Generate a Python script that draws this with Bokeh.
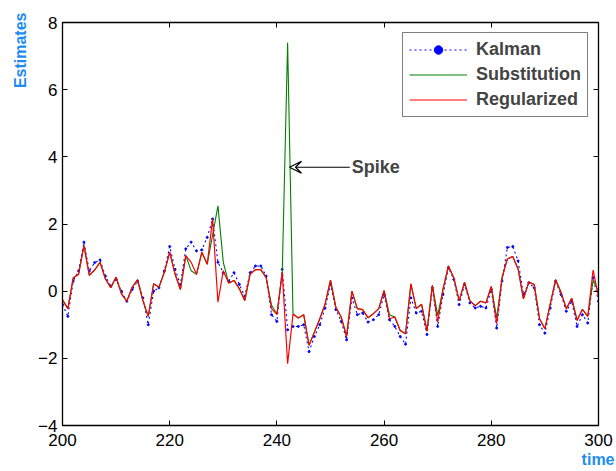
from bokeh.plotting import figure
from bokeh.models import (LinearAxis, FixedTicker, Legend, LegendItem, Arrow, VeeHead,
                          Label, Title, Range1d)
from bokeh.embed import file_html
from bokeh.resources import INLINE

time = list(range(200, 301))

regularized = [
    -0.26, -0.52, 0.40, 0.50, 1.36, 0.47, 0.63, 0.86, 0.37, 0.10,
    0.42, -0.08, -0.30, 0.12, 0.34, -0.28, -0.75, 0.22, 0.12, 0.56,
    1.16, 0.51, 0.05, 1.06, 0.86, 0.50, 1.16, 0.80, 2.15, -0.33,
    0.61, 0.24, 0.32, 0.07, -0.28, 0.51, 0.64, 0.64, 0.40, -0.52,
    -0.69, 0.56, -2.16, -0.69, -0.80, -0.70, -1.61, -1.22, -0.82, -0.38,
    0.33, -0.48, -0.77, -1.35, 0.00, -0.52, -0.55, -0.79, -0.67, -0.52,
    0.02, -0.82, -0.77, -1.17, -1.27, 0.22, -0.52, -0.39, -1.19, 0.17,
    -0.92, 0.07, 0.75, 0.40, -0.28, 0.26, -0.28, -0.43, -0.30, -0.35,
    0.14, -0.97, 0.40, 0.96, 1.03, 0.66, -0.23, 0.27, 0.20, -0.82,
    -1.12, -0.38, 0.34, -0.03, -0.52, -0.21, -0.87, -0.54, -0.75, 0.63,
    -0.18,
]

substitution = [
    -0.26, -0.52, 0.40, 0.50, 1.36, 0.47, 0.63, 0.86, 0.37, 0.10,
    0.42, -0.08, -0.30, 0.12, 0.34, -0.28, -0.75, 0.22, 0.12, 0.56,
    1.16, 0.51, 0.05, 1.06, 0.61, 0.50, 1.16, 0.80, 1.67, 2.54,
    0.86, 0.24, 0.32, 0.07, -0.28, 0.51, 0.64, 0.64, 0.40, -0.42,
    -0.69, 0.56, 7.40, -0.67, -0.80, -0.70, -1.61, -1.22, -0.82, -0.38,
    0.33, -0.48, -0.77, -1.35, 0.00, -0.52, -0.55, -0.79, -0.67, -0.52,
    0.02, -0.70, -0.77, -1.17, -1.27, 0.22, -0.52, -0.39, -1.19, 0.17,
    -0.72, 0.07, 0.75, 0.40, -0.28, 0.26, -0.28, -0.43, -0.30, -0.35,
    0.14, -0.80, 0.40, 0.96, 1.03, 0.66, -0.23, 0.27, 0.20, -0.82,
    -1.12, -0.38, 0.34, -0.03, -0.52, -0.21, -0.87, -0.54, -0.75, 0.32,
    0.00,
]

kalman = [
    -0.40, -0.75, 0.30, 0.60, 1.46, 0.60, 0.85, 0.93, 0.45, 0.15,
    0.35, 0.00, -0.30, 0.05, 0.30, -0.20, -1.00, 0.00, 0.10, 0.60,
    1.33, 0.65, 0.20, 1.26, 1.46, 1.20, 1.23, 1.60, 2.15, 0.86,
    0.55, 0.30, 0.55, 0.20, -0.15, 0.55, 0.75, 0.75, 0.45, -0.70,
    -0.90, 0.65, -1.15, -1.05, -1.05, -1.00, -1.80, -1.35, -1.00, -0.50,
    0.20, -0.55, -0.90, -1.45, -0.20, -0.70, -0.65, -0.92, -0.85, -0.70,
    -0.10, -0.85, -1.05, -1.35, -1.58, -0.20, -0.65, -0.60, -1.29, 0.10,
    -1.05, -0.10, 0.70, 0.35, -0.40, 0.20, -0.35, -0.50, -0.45, -0.50,
    0.05, -1.10, 0.30, 1.30, 1.33, 0.90, -0.10, 0.25, 0.10, -1.00,
    -1.25, -0.50, 0.30, -0.10, -0.60, -0.30, -1.05, -0.70, -0.95, 0.40,
    -0.30,
]

x_ticks = [200, 220, 240, 260, 280, 300]
y_ticks = [-4, -2, 0, 2, 4, 6, 8]
y_tick_labels = {-4: "\u22124", -2: "\u22122", 0: "0", 2: "2", 4: "4", 6: "6", 8: "8"}

spike_tip = (242.35, 3.69)
spike_tail = (253.6, 3.69)
spike_text = "Spike"

FONT = "Liberation Sans"
LABEL_BLUE = "#1E8CF0"

p = figure(width=616, height=471, output_backend="svg", toolbar_location=None,
           x_range=Range1d(200, 300), y_range=Range1d(-4, 8),
           min_border_left=62, min_border_right=18, min_border_top=22, min_border_bottom=46)
p.xgrid.visible = False
p.ygrid.visible = False
p.outline_line_color = "black"
p.outline_line_width = 1.3
p.background_fill_color = "white"
p.border_fill_color = "white"

def style_axis(ax, ticks, labels=True):
    ax.ticker = FixedTicker(ticks=ticks)
    ax.major_tick_in = 5
    ax.major_tick_out = 0
    ax.minor_tick_line_color = None
    ax.axis_line_color = "black"
    ax.major_tick_line_color = "black"
    ax.major_label_text_font = FONT
    ax.major_label_text_font_size = "17px"
    ax.major_label_text_color = "black"
    if not labels:
        ax.major_label_overrides = {t: "" for t in ticks}
        ax.major_label_standoff = 0

style_axis(p.xaxis[0], x_ticks)
p.xaxis[0].major_label_standoff = 8
style_axis(p.yaxis[0], y_ticks)
p.yaxis[0].major_label_overrides = y_tick_labels
p.yaxis[0].major_label_standoff = 5

top_ax = LinearAxis()
style_axis(top_ax, x_ticks, labels=False)
p.add_layout(top_ax, "above")
right_ax = LinearAxis()
style_axis(right_ax, y_ticks, labels=False)
p.add_layout(right_ax, "right")

r_k_line = p.line(time, kalman, line_color="blue", line_width=1.1, line_dash="2 3")
r_k_pts = p.scatter(time, kalman, marker="circle", size=2, fill_color="blue", line_color="blue")
r_s = p.line(time, substitution, line_color="#008000", line_width=1.1)
r_r = p.line(time, regularized, line_color="red", line_width=1.2)

legend = Legend(items=[
    LegendItem(label="Kalman", renderers=[r_k_line, r_k_pts]),
    LegendItem(label="Substitution", renderers=[r_s]),
    LegendItem(label="Regularized", renderers=[r_r]),
], location="top_right")
legend.label_text_font = FONT
legend.label_text_font_style = "bold"
legend.label_text_font_size = "18px"
legend.border_line_color = "black"
legend.border_line_width = 1.2
legend.glyph_width = 58
legend.glyph_height = 21
legend.label_height = 21
legend.spacing = 4
legend.padding = 6
legend.margin = 10
legend.label_standoff = 9
p.add_layout(legend, "center")

arrow = Arrow(end=VeeHead(size=12, line_color="black", fill_color="white", line_width=1.2),
              x_start=spike_tail[0], y_start=spike_tail[1],
              x_end=spike_tip[0], y_end=spike_tip[1], line_color="black", line_width=1.2)
p.add_layout(arrow)
p.add_layout(Label(x=spike_tail[0], y=spike_tail[1], text=spike_text, text_font=FONT,
                   text_font_style="bold", text_font_size="18px", text_baseline="middle",
                   x_offset=2))

p.add_layout(Title(text="time", align="right", text_color=LABEL_BLUE, text_font=FONT,
                   text_font_style="bold", text_font_size="16px", standoff=0, offset=-16), "below")
p.add_layout(Title(text="Estimates", align="right", text_color=LABEL_BLUE, text_font=FONT,
                   text_font_style="bold", text_font_size="16px", standoff=13, offset=-10), "left")

open("out.html", "w").write(file_html(p, INLINE))
